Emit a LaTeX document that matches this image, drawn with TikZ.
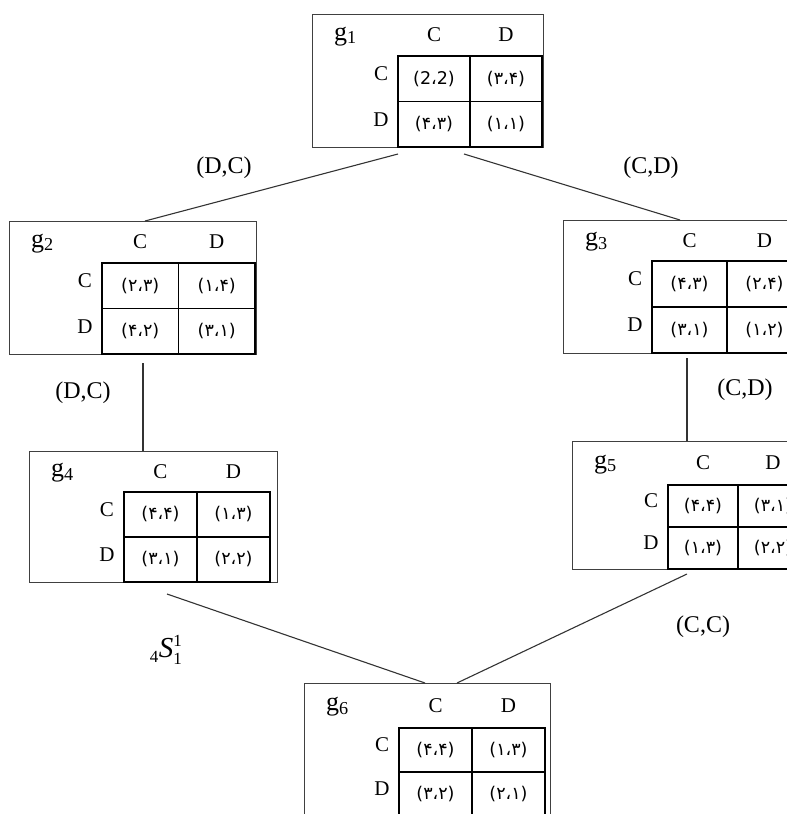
\documentclass[tikz,border=0pt]{standalone}
\usepackage{fix-cm}
\usepackage{fontspec}
\setmainfont{Liberation Serif}
\newfontfamily\persianfont[Script=Arabic]{DejaVu Sans}

\tikzset{
	gamebox/.style={draw=black!75, line width=1pt, rectangle, inner sep=0pt},
	gridline/.style={draw=black, line width=1.2pt},
	gridedge/.style={draw=black, line width=2.2pt},
	edge/.style={draw=black!80, line width=1.1pt},
	head/.style={font=\fontsize{21}{24}\selectfont, inner sep=0pt},
	glab/.style={font=\fontsize{26}{30}\selectfont, inner sep=0pt},
	cell/.style={font=\persianfont\fontsize{17.5}{20}\selectfont, inner sep=0pt},
	move/.style={font=\fontsize{24}{28}\selectfont, inner sep=0pt},
}

% #1 index, #2 x, #3 y, #4 width, #5 height, #6 grid x, #7 column width, #8 header height, #9 row height
\newcommand{\game}[9]{
	\node[gamebox, anchor=north west, minimum width=#4pt, minimum height=#5pt] (g#1) at (#2,#3) {};
	\coordinate (g#1-grid) at (#2+#6,#3+#8);
	\draw[gridline] (g#1-grid) rectangle ++(2*#7,2*#9);
	\draw[gridline] (g#1-grid) ++(#7,0) -- ++(0,2*#9);
	\draw[gridline] (g#1-grid) ++(0,#9) -- ++(2*#7,0);
	\draw[gridedge] (g#1-grid) ++(0,2*#9) -- ++(2*#7,0) -- ++(0,-2*#9);
	\node[glab, anchor=base west] (g#1-lab) at (#2+22,#3+#8/2+5) {g\textsubscript{#1}};
	\node[head] (g#1-hc) at (#2+#6+#7/2,#3+#8/2) {C};
	\node[head] (g#1-hd) at (#2+#6+1.5*#7,#3+#8/2) {D};
	\node[head] (g#1-rc) at (#2+#6-17,#3+#8+#9/2-5) {C};
	\node[head] (g#1-rd) at (#2+#6-17,#3+#8+1.5*#9-5) {D};
	\coordinate (g#1-cc) at (#2+#6+#7/2,#3+#8+#9/2);
	\coordinate (g#1-cd) at (#2+#6+1.5*#7,#3+#8+#9/2);
	\coordinate (g#1-dc) at (#2+#6+#7/2,#3+#8+1.5*#9);
	\coordinate (g#1-dd) at (#2+#6+1.5*#7,#3+#8+1.5*#9);
}
\newcommand{\cells}[5]{
	\node[cell] (g#1-pcc) at (g#1-cc) {#2};
	\node[cell] (g#1-pcd) at (g#1-cd) {#3};
	\node[cell] (g#1-pdc) at (g#1-dc) {#4};
	\node[cell] (g#1-pdd) at (g#1-dd) {#5};
}

\begin{document}
\begin{tikzpicture}[x=1pt, y=-1pt]
	\useasboundingbox (0,0) rectangle (787,814);
	\clip (0,0) rectangle (787,814);

	% games
	\game{1}{312}{14}{231}{133}{86}{72}{42}{45.5}
	\cells{1}{(2،2)}{(۳،۴)}{(۴،۳)}{(۱،۱)}
	\game{2}{9}{221}{247}{133}{93}{76.5}{42}{45.5}
	\cells{2}{(۲،۳)}{(۱،۴)}{(۴،۲)}{(۳،۱)}
	\game{3}{563}{220}{260}{133}{89}{75}{41}{46}
	\cells{3}{(۴،۳)}{(۲،۴)}{(۳،۱)}{(۱،۲)}
	\game{4}{29}{451}{248}{131}{95}{73}{41}{45}
	\cells{4}{(۴،۴)}{(۱،۳)}{(۳،۱)}{(۲،۲)}
	\game{5}{572}{441}{260}{128}{96}{70}{44}{42}
	\cells{5}{(۴،۴)}{(۳،۱)}{(۱،۳)}{(۲،۲)}
	\game{6}{304}{683}{246}{140}{95}{73}{45}{44}
	\cells{6}{(۴،۴)}{(۱،۳)}{(۳،۲)}{(۲،۱)}

	% moves
	\draw[edge] ([xshift=86pt,yshift=-6pt]g1.south west) -- ([xshift=136pt]g2.north west);
	\draw[edge] ([xshift=152pt,yshift=-6pt]g1.south west) -- ([xshift=117pt]g3.north west);
	\draw[edge] ([xshift=134pt,yshift=-8pt]g2.south west) -- ([xshift=114pt]g4.north west);
	\draw[edge] ([xshift=124pt,yshift=-4pt]g3.south west) -- ([xshift=115pt]g5.north west);
	\draw[edge] ([xshift=138pt,yshift=-11pt]g4.south west) -- ([xshift=121pt]g6.north west);
	\draw[edge] ([xshift=115pt,yshift=-4pt]g5.south west) -- ([xshift=153pt]g6.north west);

	% move labels
	\node[move] (m12) at (224,168) {(D,C)};
	\node[move] (m13) at (651,168) {(C,D)};
	\node[move] (m24) at (83,393) {(D,C)};
	\node[move] (m35) at (745,390) {(C,D)};
	\node[move] (m56) at (703,627) {(C,C)};
	\node[font=\fontsize{29}{32}\selectfont, inner sep=0pt] (m46) at (166,650) {${}_{\hbox{\fontsize{17}{17}\selectfont 4}}\hbox{\itshape S}_{\hbox{\fontsize{17}{17}\selectfont 1}}^{\hbox{\fontsize{17}{17}\selectfont 1}}$};
\end{tikzpicture}
\end{document}
